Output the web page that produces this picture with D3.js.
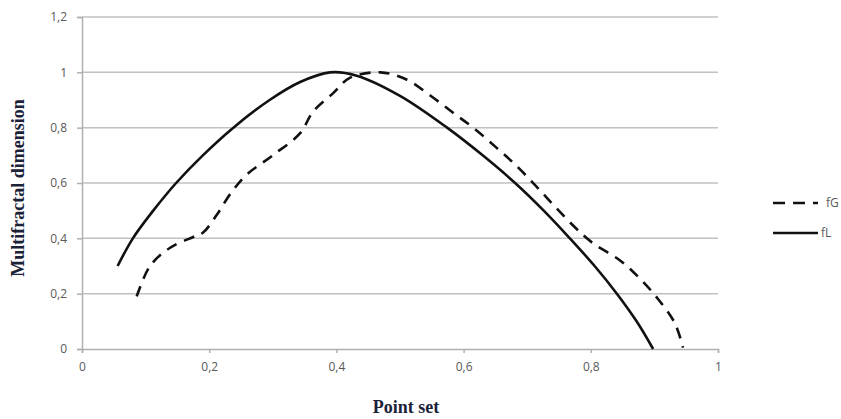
<!DOCTYPE html>
<html>
<head>
<meta charset="utf-8">
<script src="https://cdn.jsdelivr.net/npm/d3@7"></script>
<style>
  body { margin: 0; background: #fff; }
  .tick text { fill: #595959; font-family: "Open Sans", sans-serif; font-size: 12px; }
</style>
</head>
<body>
<svg id="chart" width="841" height="419"></svg>
<script>
// values
const xTicks = [0, 0.2, 0.4, 0.6, 0.8, 1];
const yTicks = [0, 0.2, 0.4, 0.6, 0.8, 1, 1.2];

const fGx = [0.086, 0.107, 0.138, 0.175, 0.19, 0.212, 0.233, 0.259, 0.30, 0.343, 0.363, 0.395, 0.421, 0.469, 0.511, 0.547, 0.583, 0.615, 0.652, 0.684, 0.715, 0.744, 0.775, 0.803, 0.846, 0.877, 0.906, 0.932, 0.945];
const fGy = [0.19, 0.30, 0.365, 0.405, 0.42, 0.485, 0.56, 0.63, 0.70, 0.78, 0.857, 0.925, 0.98, 1.0, 0.973, 0.917, 0.855, 0.80, 0.727, 0.66, 0.586, 0.514, 0.44, 0.383, 0.32, 0.255, 0.18, 0.094, 0.005];

const fLx = [0.056, 0.08, 0.112, 0.148, 0.19, 0.238, 0.295, 0.343, 0.39, 0.432, 0.5, 0.574, 0.63, 0.681, 0.726, 0.767, 0.806, 0.841, 0.872, 0.898];
const fLy = [0.30, 0.40, 0.50, 0.60, 0.70, 0.80, 0.90, 0.965, 1.0, 0.988, 0.915, 0.80, 0.70, 0.60, 0.50, 0.40, 0.30, 0.20, 0.10, 0.0];

const seriesNames = ["fG", "fL"];

const margin = {left: 82, top: 17};
const w = 636, h = 332;

const svg = d3.select("#chart");
const g = svg.append("g").attr("transform", `translate(${margin.left},${margin.top})`);

const x = d3.scaleLinear().domain([0, 1]).range([0, w]);
const y = d3.scaleLinear().domain([0, 1.2]).range([h, 0]);

const fmt = d => String(+d.toFixed(1)).replace(".", ",");

// gridlines
g.selectAll(".grid").data(yTicks.filter(d => d > 0)).enter().append("line")
    .attr("class", "grid")
    .attr("x1", 0).attr("x2", w)
    .attr("y1", d => y(d)).attr("y2", d => y(d))
    .attr("stroke", "#c0c0c0").attr("stroke-width", 1.5);

// axes
const xAxis = g.append("g").attr("transform", `translate(0,${h})`)
    .call(d3.axisBottom(x).tickValues(xTicks).tickFormat(fmt).tickSize(4).tickPadding(9));
const yAxis = g.append("g")
    .call(d3.axisLeft(y).tickValues(yTicks).tickFormat(fmt).tickSize(5).tickPadding(10));
[xAxis, yAxis].forEach(a => {
    a.select(".domain").attr("stroke", "#b0b0b0").attr("stroke-width", 1.5);
    a.selectAll(".tick line").attr("stroke", "#b0b0b0").attr("stroke-width", 1.5);
});

// lines
const line = d3.line().x(d => x(d[0])).y(d => y(d[1])).curve(d3.curveCatmullRom.alpha(0.5));
const fG = d3.zip(fGx, fGy);
const fL = d3.zip(fLx, fLy);

g.append("path").datum(fG).attr("d", line)
    .attr("fill", "none").attr("stroke", "#111").attr("stroke-width", 2.6)
    .attr("stroke-dasharray", "11,8");
g.append("path").datum(fL).attr("d", line)
    .attr("fill", "none").attr("stroke", "#111").attr("stroke-width", 2.6);

// axis titles
svg.append("text")
    .attr("x", 406).attr("y", 413)
    .attr("text-anchor", "middle")
    .attr("font-family", "'Liberation Serif', 'DejaVu Serif', serif")
    .attr("font-weight", "bold").attr("font-size", 18)
    .attr("fill", "#1b2238")
    .text("Point set");

svg.append("text")
    .attr("transform", "translate(24,188) rotate(-90)")
    .attr("text-anchor", "middle")
    .attr("font-family", "'Liberation Serif', 'DejaVu Serif', serif")
    .attr("font-weight", "bold").attr("font-size", 18)
    .attr("fill", "#1b2238")
    .text("Multifractal dimension");

// legend
const legend = svg.append("g").attr("transform", "translate(773,203)");
seriesNames.forEach((name, i) => {
    const row = legend.append("g").attr("transform", `translate(0,${i * 30})`);
    row.append("line").attr("x1", 0).attr("x2", 45).attr("y1", 0).attr("y2", 0)
        .attr("stroke", "#111").attr("stroke-width", 2.6)
        .attr("stroke-dasharray", name === "fG" ? "12,8" : null);
    row.append("text").attr("x", i === 0 ? 53 : 48).attr("y", 4)
        .attr("font-family", "'Open Sans', sans-serif").attr("font-size", 12)
        .attr("fill", "#595959")
        .text(name);
});
</script>
</body>
</html>
